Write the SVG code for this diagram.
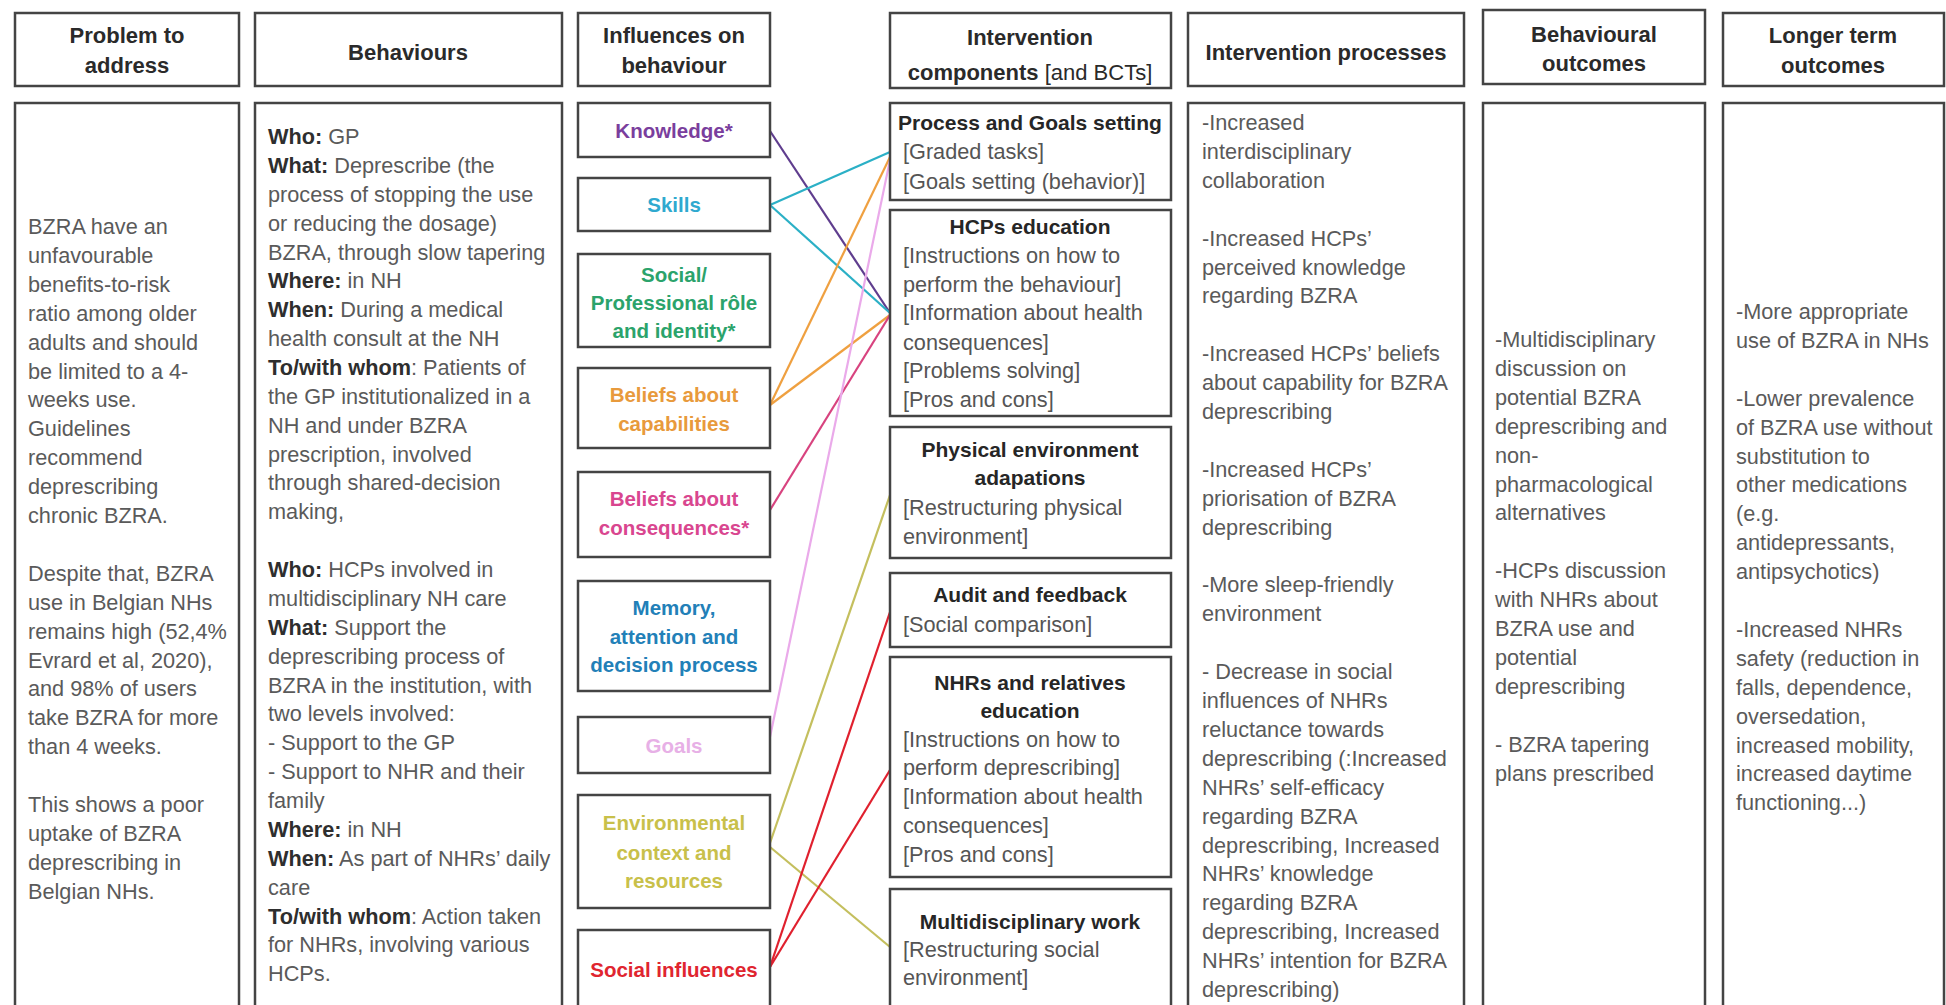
<svg xmlns="http://www.w3.org/2000/svg" width="1946" height="1005" viewBox="0 0 1946 1005">
<style>
text{font-family:"Liberation Sans",Arial,sans-serif}
.box{fill:#fff;stroke:#444;stroke-width:2.5}
.hd{font-size:22px;font-weight:bold;fill:#2a2a2a;text-anchor:middle}
.reg{font-weight:normal}
.bd{font-size:21.7px;fill:#5a5a5a}
.b{font-weight:bold;fill:#2e2e2e}
.inf{font-size:20.5px;font-weight:bold;text-anchor:middle}
.ct{font-size:21px;font-weight:bold;fill:#262626;text-anchor:middle}
.cl{font-size:21.7px;fill:#555}
.ln{fill:none;stroke-width:2.2}
</style>
<rect width="1946" height="1005" fill="#fff"/>

<!-- Headers -->
<g id="h-problem"><rect class="box" x="15" y="13" width="224" height="73"/><text class="hd"><tspan x="127" y="43">Problem to</tspan><tspan x="127" y="73">address</tspan></text></g>
<g id="h-behaviours"><rect class="box" x="255" y="13" width="307" height="73"/><text class="hd" x="408" y="60">Behaviours</text></g>
<g id="h-influences"><rect class="box" x="578" y="13" width="192" height="73"/><text class="hd"><tspan x="674" y="43">Influences on</tspan><tspan x="674" y="73">behaviour</tspan></text></g>
<g id="h-components"><rect class="box" x="890" y="13" width="281" height="75"/><text class="hd"><tspan x="1030" y="45">Intervention</tspan><tspan x="1030" y="80">components<tspan class="reg"> [and BCTs]</tspan></tspan></text></g>
<g id="h-processes"><rect class="box" x="1188" y="13" width="276" height="73"/><text class="hd" x="1326" y="60">Intervention processes</text></g>
<g id="h-behav-outcomes"><rect class="box" x="1483" y="10" width="222" height="74"/><text class="hd"><tspan x="1594" y="42">Behavioural</tspan><tspan x="1594" y="71">outcomes</tspan></text></g>
<g id="h-longer"><rect class="box" x="1723" y="13" width="221" height="73"/><text class="hd"><tspan x="1833" y="43">Longer term</tspan><tspan x="1833" y="73">outcomes</tspan></text></g>

<!-- Problem -->
<g id="problem"><rect class="box" x="15" y="103" width="224" height="912"/>
<text class="bd">
<tspan x="28" y="234">BZRA have an</tspan>
<tspan x="28" y="262.9">unfavourable</tspan>
<tspan x="28" y="291.8">benefits-to-risk</tspan>
<tspan x="28" y="320.7">ratio among older</tspan>
<tspan x="28" y="349.6">adults and should</tspan>
<tspan x="28" y="378.5">be limited to a 4-</tspan>
<tspan x="28" y="407.4">weeks use.</tspan>
<tspan x="28" y="436.3">Guidelines</tspan>
<tspan x="28" y="465.2">recommend</tspan>
<tspan x="28" y="494.1">deprescribing</tspan>
<tspan x="28" y="523">chronic BZRA.</tspan>
<tspan x="28" y="580.8">Despite that, BZRA</tspan>
<tspan x="28" y="609.7">use in Belgian NHs</tspan>
<tspan x="28" y="638.6">remains high (52,4%</tspan>
<tspan x="28" y="667.5">Evrard et al, 2020),</tspan>
<tspan x="28" y="696.4">and 98% of users</tspan>
<tspan x="28" y="725.3">take BZRA for more</tspan>
<tspan x="28" y="754.2">than 4 weeks.</tspan>
<tspan x="28" y="812">This shows a poor</tspan>
<tspan x="28" y="840.9">uptake of BZRA</tspan>
<tspan x="28" y="869.8">deprescribing in</tspan>
<tspan x="28" y="898.7">Belgian NHs.</tspan>
</text></g>

<!-- Behaviours -->
<g id="behaviours"><rect class="box" x="255" y="103" width="307" height="912"/>
<text class="bd">
<tspan x="268" y="144"><tspan class="b">Who:</tspan> GP</tspan>
<tspan x="268" y="172.9"><tspan class="b">What:</tspan> Deprescribe (the</tspan>
<tspan x="268" y="201.7">process of stopping the use</tspan>
<tspan x="268" y="230.6">or reducing the dosage)</tspan>
<tspan x="268" y="259.5">BZRA, through slow tapering</tspan>
<tspan x="268" y="288.4"><tspan class="b">Where:</tspan> in NH</tspan>
<tspan x="268" y="317.2"><tspan class="b">When:</tspan> During a medical</tspan>
<tspan x="268" y="346.1">health consult at the NH</tspan>
<tspan x="268" y="375"><tspan class="b">To/with whom</tspan>: Patients of</tspan>
<tspan x="268" y="403.8">the GP institutionalized in a</tspan>
<tspan x="268" y="432.7">NH and under BZRA</tspan>
<tspan x="268" y="461.6">prescription, involved</tspan>
<tspan x="268" y="490.4">through shared-decision</tspan>
<tspan x="268" y="519.3">making,</tspan>
<tspan x="268" y="577.1"><tspan class="b">Who:</tspan> HCPs involved in</tspan>
<tspan x="268" y="605.9">multidisciplinary NH care</tspan>
<tspan x="268" y="634.8"><tspan class="b">What:</tspan> Support the</tspan>
<tspan x="268" y="663.7">deprescribing process of</tspan>
<tspan x="268" y="692.5">BZRA in the institution, with</tspan>
<tspan x="268" y="721.4">two levels involved:</tspan>
<tspan x="268" y="750.3">- Support to the GP</tspan>
<tspan x="268" y="779.1">- Support to NHR and their</tspan>
<tspan x="268" y="808">family</tspan>
<tspan x="268" y="836.9"><tspan class="b">Where:</tspan> in NH</tspan>
<tspan x="268" y="865.8"><tspan class="b">When:</tspan> As part of NHRs’ daily</tspan>
<tspan x="268" y="894.6">care</tspan>
<tspan x="268" y="923.5"><tspan class="b">To/with whom</tspan>: Action taken</tspan>
<tspan x="268" y="952.4">for NHRs, involving various</tspan>
<tspan x="268" y="981.2">HCPs.</tspan>
</text></g>

<!-- Connectors -->
<g id="connectors">
<line class="ln" stroke="#5f3d8e" x1="770" y1="131" x2="890" y2="313"/>
<line class="ln" stroke="#2bb0c6" x1="770" y1="205" x2="890" y2="152"/>
<line class="ln" stroke="#2bb0c6" x1="770" y1="205" x2="890" y2="313"/>
<line class="ln" stroke="#efa040" x1="770" y1="405" x2="890" y2="157"/>
<line class="ln" stroke="#efa040" x1="770" y1="405" x2="890" y2="315"/>
<line class="ln" stroke="#d8437f" x1="770" y1="510" x2="890" y2="315"/>
<line class="ln" stroke="#eaaaea" x1="770" y1="737" x2="890" y2="160"/>
<line class="ln" stroke="#c4bf5e" x1="770" y1="843" x2="890" y2="495"/>
<line class="ln" stroke="#c4bf5e" x1="770" y1="847" x2="890" y2="947"/>
<line class="ln" stroke="#e0202e" x1="770" y1="967" x2="890" y2="612"/>
<line class="ln" stroke="#e0202e" x1="770" y1="967" x2="890" y2="770"/>
</g>

<!-- Influences -->
<g id="inf-knowledge"><rect class="box" x="578" y="103" width="192" height="54"/><text class="inf" fill="#7a3e9d" x="674" y="138">Knowledge*</text></g>
<g id="inf-skills"><rect class="box" x="578" y="178" width="192" height="53"/><text class="inf" fill="#2fa9cf" x="674" y="212">Skills</text></g>
<g id="inf-social-role"><rect class="box" x="578" y="254" width="192" height="93"/><text class="inf" fill="#2ba36b"><tspan x="674" y="282">Social/</tspan><tspan x="674" y="310">Professional rôle</tspan><tspan x="674" y="338">and identity*</tspan></text></g>
<g id="inf-beliefs-cap"><rect class="box" x="578" y="368" width="192" height="80"/><text class="inf" fill="#e89a3c"><tspan x="674" y="402">Beliefs about</tspan><tspan x="674" y="431">capabilities</tspan></text></g>
<g id="inf-beliefs-cons"><rect class="box" x="578" y="472" width="192" height="85"/><text class="inf" fill="#d9468f"><tspan x="674" y="506">Beliefs about</tspan><tspan x="674" y="535">consequences*</tspan></text></g>
<g id="inf-memory"><rect class="box" x="578" y="581" width="192" height="110"/><text class="inf" fill="#2280b8"><tspan x="674" y="615">Memory,</tspan><tspan x="674" y="644">attention and</tspan><tspan x="674" y="672">decision process</tspan></text></g>
<g id="inf-goals"><rect class="box" x="578" y="717" width="192" height="56"/><text class="inf" fill="#e7b0e6" x="674" y="753">Goals</text></g>
<g id="inf-environment"><rect class="box" x="578" y="795" width="192" height="113"/><text class="inf" fill="#c8c04a"><tspan x="674" y="830">Environmental</tspan><tspan x="674" y="860">context and</tspan><tspan x="674" y="888">resources</tspan></text></g>
<g id="inf-social"><rect class="box" x="578" y="930" width="192" height="90"/><text class="inf" fill="#e0252f" x="674" y="977">Social influences</text></g>

<!-- Intervention components -->
<g id="comp-goals"><rect class="box" x="890" y="103" width="281" height="97"/><text class="ct" x="1030" y="130">Process and Goals setting</text><text class="cl"><tspan x="903" y="159">[Graded tasks]</tspan><tspan x="903" y="189">[Goals setting (behavior)]</tspan></text></g>
<g id="comp-hcp-edu"><rect class="box" x="890" y="210" width="281" height="206"/><text class="ct" x="1030" y="234">HCPs education</text><text class="cl"><tspan x="903" y="263">[Instructions on how to</tspan><tspan x="903" y="292">perform the behaviour]</tspan><tspan x="903" y="320">[Information about health</tspan><tspan x="903" y="350">consequences]</tspan><tspan x="903" y="378">[Problems solving]</tspan><tspan x="903" y="407">[Pros and cons]</tspan></text></g>
<g id="comp-physical"><rect class="box" x="890" y="427" width="281" height="131"/><text class="ct"><tspan x="1030" y="457">Physical environment</tspan><tspan x="1030" y="485">adapations</tspan></text><text class="cl"><tspan x="903" y="515">[Restructuring physical</tspan><tspan x="903" y="544">environment]</tspan></text></g>
<g id="comp-audit"><rect class="box" x="890" y="573" width="281" height="74"/><text class="ct" x="1030" y="602">Audit and feedback</text><text class="cl" x="903" y="632">[Social comparison]</text></g>
<g id="comp-nhr-edu"><rect class="box" x="890" y="657" width="281" height="220"/><text class="ct"><tspan x="1030" y="690">NHRs and relatives</tspan><tspan x="1030" y="718">education</tspan></text><text class="cl"><tspan x="903" y="747">[Instructions on how to</tspan><tspan x="903" y="775">perform deprescribing]</tspan><tspan x="903" y="804">[Information about health</tspan><tspan x="903" y="833">consequences]</tspan><tspan x="903" y="862">[Pros and cons]</tspan></text></g>
<g id="comp-multi"><rect class="box" x="890" y="889" width="281" height="130"/><text class="ct" x="1030" y="929">Multidisciplinary work</text><text class="cl"><tspan x="903" y="957">[Restructuring social</tspan><tspan x="903" y="985">environment]</tspan></text></g>

<!-- Processes -->
<g id="processes"><rect class="box" x="1188" y="103" width="276" height="912"/>
<text class="bd">
<tspan x="1202" y="130">-Increased</tspan>
<tspan x="1202" y="158.9">interdisciplinary</tspan>
<tspan x="1202" y="187.8">collaboration</tspan>
<tspan x="1202" y="245.6">-Increased HCPs’</tspan>
<tspan x="1202" y="274.5">perceived knowledge</tspan>
<tspan x="1202" y="303.4">regarding BZRA</tspan>
<tspan x="1202" y="361.2">-Increased HCPs’ beliefs</tspan>
<tspan x="1202" y="390.1">about capability for BZRA</tspan>
<tspan x="1202" y="419">deprescribing</tspan>
<tspan x="1202" y="476.8">-Increased HCPs’</tspan>
<tspan x="1202" y="505.7">priorisation of BZRA</tspan>
<tspan x="1202" y="534.6">deprescribing</tspan>
<tspan x="1202" y="592.4">-More sleep-friendly</tspan>
<tspan x="1202" y="621.3">environment</tspan>
<tspan x="1202" y="679.1">- Decrease in social</tspan>
<tspan x="1202" y="708">influences of NHRs</tspan>
<tspan x="1202" y="736.9">reluctance towards</tspan>
<tspan x="1202" y="765.8">deprescribing (:Increased</tspan>
<tspan x="1202" y="794.7">NHRs’ self-efficacy</tspan>
<tspan x="1202" y="823.6">regarding BZRA</tspan>
<tspan x="1202" y="852.5">deprescribing, Increased</tspan>
<tspan x="1202" y="881.4">NHRs’ knowledge</tspan>
<tspan x="1202" y="910.3">regarding BZRA</tspan>
<tspan x="1202" y="939.2">deprescribing, Increased</tspan>
<tspan x="1202" y="968.1">NHRs’ intention for BZRA</tspan>
<tspan x="1202" y="997">deprescribing)</tspan>
</text></g>

<!-- Behavioural outcomes -->
<g id="behav-outcomes"><rect class="box" x="1483" y="103" width="222" height="912"/>
<text class="bd">
<tspan x="1495" y="347">-Multidisciplinary</tspan>
<tspan x="1495" y="375.9">discussion on</tspan>
<tspan x="1495" y="404.8">potential BZRA</tspan>
<tspan x="1495" y="433.7">deprescribing and</tspan>
<tspan x="1495" y="462.6">non-</tspan>
<tspan x="1495" y="491.5">pharmacological</tspan>
<tspan x="1495" y="520.4">alternatives</tspan>
<tspan x="1495" y="578.2">-HCPs discussion</tspan>
<tspan x="1495" y="607.1">with NHRs about</tspan>
<tspan x="1495" y="636">BZRA use and</tspan>
<tspan x="1495" y="664.9">potential</tspan>
<tspan x="1495" y="693.8">deprescribing</tspan>
<tspan x="1495" y="751.6">- BZRA tapering</tspan>
<tspan x="1495" y="780.5">plans prescribed</tspan>
</text></g>

<!-- Longer term outcomes -->
<g id="longer-outcomes"><rect class="box" x="1723" y="103" width="221" height="912"/>
<text class="bd">
<tspan x="1736" y="319">-More appropriate</tspan>
<tspan x="1736" y="347.9">use of BZRA in NHs</tspan>
<tspan x="1736" y="405.7">-Lower prevalence</tspan>
<tspan x="1736" y="434.6">of BZRA use without</tspan>
<tspan x="1736" y="463.5">substitution to</tspan>
<tspan x="1736" y="492.4">other medications</tspan>
<tspan x="1736" y="521.3">(e.g.</tspan>
<tspan x="1736" y="550.2">antidepressants,</tspan>
<tspan x="1736" y="579.1">antipsychotics)</tspan>
<tspan x="1736" y="636.9">-Increased NHRs</tspan>
<tspan x="1736" y="665.8">safety (reduction in</tspan>
<tspan x="1736" y="694.7">falls, dependence,</tspan>
<tspan x="1736" y="723.6">oversedation,</tspan>
<tspan x="1736" y="752.5">increased mobility,</tspan>
<tspan x="1736" y="781.4">increased daytime</tspan>
<tspan x="1736" y="810.3">functioning...)</tspan>
</text></g>
</svg>
